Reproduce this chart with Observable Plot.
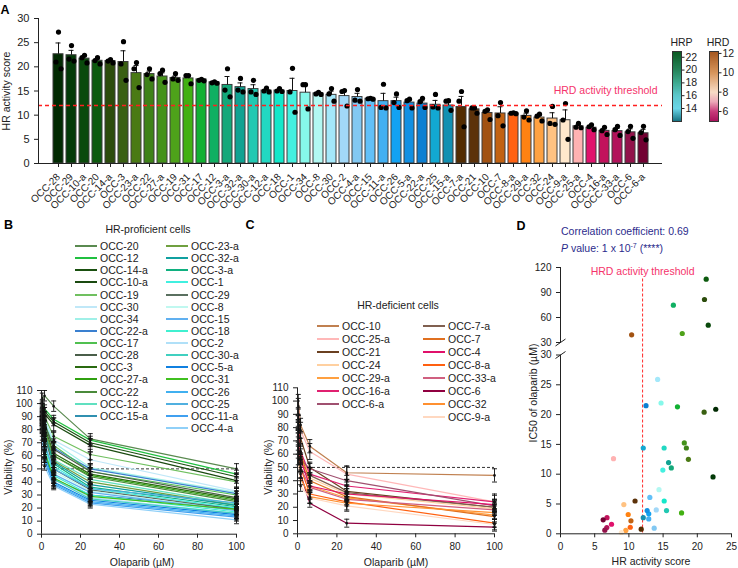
<!DOCTYPE html>
<html><head><meta charset="utf-8">
<script src="https://cdn.jsdelivr.net/npm/d3@7"></script>
<script src="https://cdn.jsdelivr.net/npm/@observablehq/plot@0.6"></script>
<style>
html,body{margin:0;padding:0;background:#fff;}
#root{position:relative;width:738px;height:568px;overflow:hidden;font-family:"Liberation Sans",Arial,Helvetica,sans-serif;color:#222;}
#root svg{position:absolute;overflow:visible;}
.t{position:absolute;white-space:nowrap;line-height:1;}
.sw{position:absolute;height:2px;}
</style></head>
<body><div id="root"></div>
<script>
// ---------- Panel A data ----------
const cellsA = ["OCC-28","OCC-29","OCC-10-a","OCC-20","OCC-14-a","OCC-3","OCC-23-a","OCC-22","OCC-27-a","OCC-19","OCC-31","OCC-17","OCC-12","OCC-3-a","OCC-32-a","OCC-30-a","OCC-12-a","OCC-18","OCC-1","OCC-34","OCC-8","OCC-30","OCC-2","OCC-4-a","OCC-15","OCC-11-a","OCC-26","OCC-5-a","OCC-22-a","OCC-25","OCC-15-a","OCC-7-a","OCC-21","OCC-10","OCC-7","OCC-8-a","OCC-29-a","OCC-32","OCC-24","OCC-9-a","OCC-25-a","OCC-4","OCC-16-a","OCC-33-a","OCC-6","OCC-6-a"];
const hrMean = [22.6,22.4,21.7,21.25,21.2,21.0,18.7,18.5,18.0,17.7,17.6,17.4,16.8,16.25,15.8,15.4,15.1,15.1,15.0,14.65,14.5,14.2,13.95,13.75,13.4,12.9,12.9,12.6,12.4,12.15,12.0,11.7,11.2,10.45,10.35,10.3,9.85,9.5,9.3,8.95,7.7,7.4,6.75,6.7,6.45,6.25];
const hrRep1 = [27.2,24.4,22.4,21.9,21.5,25.2,20.9,19.6,19.3,18.6,18.2,17.4,16.9,19.6,17.6,17.2,15.6,15.5,19.7,16.3,14.7,15.5,15.1,15.3,13.5,16.4,14.4,13.3,13.5,14.3,13.0,14.9,11.5,11.1,12.6,10.5,10.9,10.2,11.8,12.4,8.3,8.0,7.5,7.7,7.7,7.7];
const hrRep2 = [21.0,21.6,21.9,21.3,21.2,20.6,19.6,18.4,18.6,17.5,18.2,17.2,16.7,15.2,15.2,14.8,15.0,15.0,14.8,16.3,14.4,14.4,14.9,13.1,13.4,11.6,12.6,13.0,12.8,11.7,12.9,12.9,11.5,10.8,9.9,10.4,9.6,9.8,8.3,9.0,7.5,7.6,6.8,7.0,6.6,6.4];
const hrRep3 = [19.6,21.2,20.8,20.6,20.8,17.2,15.7,17.5,16.8,17.2,16.5,17.1,16.6,13.8,14.8,14.3,14.8,14.9,10.6,11.3,14.3,12.9,11.9,12.9,13.3,11.5,11.6,11.5,11.6,11.5,11.0,7.6,10.4,9.1,7.8,10.3,9.0,8.8,8.1,5.0,7.4,7.0,6.0,5.8,5.2,4.9];
const barColors = ["#012a02","#033a08","#0a4a0c","#0c5a0e","#2c4c0c","#3a6012","#4a7a14","#3e8218","#44921a","#4ea21a","#42b012","#12b032","#10b062","#14a87a","#10a292","#22c8b2","#22d8c2","#14e8ca","#44f0e0","#86f8ea","#b2f8f2","#a4e8fa","#a2d8f8","#82c8f2","#62c0f8","#42b0f2","#12a2f2","#1290e2","#0c80d2","#12a8d2","#1290b2","#522c02","#5c320a","#a25212","#c26212","#ff6212","#ff8212","#ffa242","#ffc282","#ffe8cc","#ffb2b2","#e0126c","#c2125c","#b2125a","#92124a","#720032"];
const hrTicks = [0,5,10,15,20,25,30];
const threshold = 12;
const thresholdLabel = "HRD activity threshold";

// colour bar legends
const hrpStops = [11.97,14,16,18,20,22.9];
const hrpStopColors = ["#14707f","#6ad6e8","#5cc8cc","#3eaa90","#25845a","#0b5a22"];
const hrpLegendTicks = [14,16,18,20,22];
const hrdStops = [4.97,6,7,8,10,12.2];
const hrdStopColors = ["#a8105a","#c83a7a","#eca8b8","#f8dcc6","#d8965c","#a4561e"];
const hrdLegendTicks = [6,8,10,12];

// ---------- Panels B & C data ----------
const doses = [0.39, 1.56, 6.25, 25, 100];
const viabTicks = [0,10,20,30,40,50,60,70,80,90,100,110];
const doseTicks = [0,20,40,60,80,100];
const ic50Line = 50;
const hrpCells = ["OCC-20","OCC-12","OCC-14-a","OCC-10-a","OCC-19","OCC-30","OCC-34","OCC-22-a","OCC-17","OCC-28","OCC-3","OCC-27-a","OCC-22","OCC-12-a","OCC-15-a","OCC-23-a","OCC-32-a","OCC-3-a","OCC-1","OCC-29","OCC-8","OCC-15","OCC-18","OCC-2","OCC-30-a","OCC-5-a","OCC-31","OCC-26","OCC-25","OCC-11-a","OCC-4-a"];
const hrpLineColors = ["#5a8a50","#20c040","#1a5010","#1a4a10","#70c060","#c0e8f8","#a0f0e8","#3a80d0","#50c050","#4a5e4a","#2a6a10","#30a010","#4a8a3a","#60e0c0","#3090b0","#70a040","#10a0a0","#10b080","#40f0e0","#5a7060","#c0f8f0","#60b0f0","#40f0d0","#b0e0f8","#40d0c0","#1080e0","#40c020","#40b0f0","#50b0e0","#40a0f0","#90d0f8"];
const hrpViability = [
 [104,106,98,73,50],[100,96,88,72,46],[98,94,86,70,44],[97,92,84,68,41],[95,90,75,61,40],
 [94,88,72,57,33],[93,86,70,51,32],[92,84,66,50,31],[92,84,68,48,30],[93,85,65,48,28],
 [90,82,62,46,27],[88,78,60,45,26],[90,80,60,44,25],[88,78,57,42,23],[85,64,42,30,20],
 [90,79,56,40,22],[88,77,55,38,22],[87,75,54,36,21],[86,74,52,35,20],[89,76,50,34,19],
 [85,70,48,33,18],[86,70,46,32,18],[84,68,45,30,17],[82,62,43,28,16],[80,60,42,27,16],
 [82,62,40,26,15],[83,63,43,29,19],[80,58,39,25,14],[84,68,50,35,24],[78,56,38,24,13],[75,52,37,23,11]];
const hrpSD = [4,3,3,5,4,6,3,4,3,5,4,3,4,3,5,3,4,3,3,4,3,3,3,4,3,3,4,3,4,3,3];
const hrdCells = ["OCC-10","OCC-25-a","OCC-21","OCC-24","OCC-29-a","OCC-16-a","OCC-6-a","OCC-7-a","OCC-7","OCC-4","OCC-8-a","OCC-33-a","OCC-6","OCC-32","OCC-9-a"];
const hrdLineColors = ["#c08050","#ffb8b8","#6a4020","#ffd0a0","#ffa040","#e02070","#a05070","#806050","#e07020","#e0106a","#ff6010","#d06080","#900040","#ff9030","#ffd8c0"];
const hrdViability = [
 [100,82,66,46,44],[96,78,62,45,24],[90,72,50,32,20],[85,62,42,30,19],[82,58,36,27,14],
 [84,62,45,36,24],[80,56,49,40,21],[72,48,44,31,20],[82,60,40,28,13],[80,56,36,30,22],
 [76,50,30,24,8],[74,50,35,26,18],[66,45,23,8,5],[62,42,28,23,16],[56,36,27,21,7]];
const hrdSD = [5,6,4,4,3,5,4,6,4,4,3,4,3,5,4];

// ---------- Panel D data (same order as cellsA) ----------
const dScore = [22.7,22.3,21.6,21.3,21.05,21.0,18.7,18.4,18.1,17.8,17.7,17.1,16.5,16.2,15.8,15.5,15.15,15.16,14.96,14.7,14.4,14.2,14.0,13.7,13.06,12.9,12.9,12.67,12.5,12.1,12.1,11.8,10.9,10.4,10.3,10.2,9.9,9.55,9.26,8.9,7.75,7.46,6.8,6.77,6.48,6.24];
const dIC50 = [20.9,9.55,50.8,106,81.6,20.4,12.5,14.4,15.25,40.8,3.5,21.3,74.8,11.06,11.95,3.9,14.4,5.5,10.7,21.95,7.4,25.9,4.0,0.95,6.1,2.5,3.35,3.9,21.5,14.4,2.7,0.78,5.5,39.2,2.18,1.1,3.24,0.56,4.9,0.22,12.6,1.6,2.7,1.06,0.6,2.35];
const yBreak = 30;
const dTopTicks = [30,60,90,120];
const dBottomTicks = [0,5,10,15,20,25,30];
const dXTicks = [0,5,10,15,20,25];

// ---------- helpers ----------
const root = document.getElementById("root");
const FONT = '"Liberation Sans", Arial, Helvetica, sans-serif';
const baseStyle = {fontFamily: FONT, fontSize: "10px", color: "#222", background: "none", overflow: "visible"};
function put(svg, left, top){ svg.style.left = left + "px"; svg.style.top = top + "px"; root.appendChild(svg); }
function label(str, x, y, o = {}) {
  const d = document.createElement("div"); d.className = "t";
  if (o.html) d.innerHTML = str; else d.textContent = str;
  d.style.fontSize = (o.size || 10.5) + "px";
  d.style.color = o.color || "#222";
  if (o.bold) d.style.fontWeight = "bold";
  const tx = o.anchor === "middle" ? "-50%" : o.anchor === "end" ? "-100%" : "0";
  d.style.left = x + "px"; d.style.top = y + "px";
  d.style.transform = o.rotate ? `translate(-50%,-50%) rotate(${o.rotate}deg)` : `translate(${tx},-50%)`;
  root.appendChild(d);
}
const capSym = {draw(ctx, size){ const w = 2.5; ctx.moveTo(-w, 0); ctx.lineTo(w, 0); }};
const slashSym = {draw(ctx, size){ ctx.moveTo(-5, 3.5); ctx.lineTo(5, -3.5); }};

// ---------- Panel A ----------
const aData = cellsA.map((c, i) => {
  const reps = [hrRep1[i], hrRep2[i], hrRep3[i]];
  return {cell: c, mean: hrMean[i], top: hrMean[i] + d3.deviation(reps) / Math.sqrt(reps.length), reps};
});
const aPts = aData.flatMap(d => d.reps.map((v, k) => ({cell: d.cell, v, k})));
const jitter = [0, -2.5, 2.5];
const aPlot = Plot.plot({
  width: 665, height: 205, marginLeft: 38, marginRight: 3, marginTop: 18, marginBottom: 42,
  style: baseStyle,
  x: {domain: cellsA, padding: 0.25, label: null, axis: null},
  y: {domain: [0, 30], label: null, axis: null},
  color: {domain: cellsA, range: barColors},
  marks: [
    Plot.barY(aData, {x: "cell", y: "mean", fill: "cell", stroke: "#3c3c3c", strokeWidth: 1}),
    Plot.ruleX(aData, {x: "cell", y1: "mean", y2: "top", stroke: "#111", strokeWidth: 1}),
    Plot.tickY(aData, {x: "cell", y: "top", stroke: "#111", strokeWidth: 1, insetLeft: 2.5, insetRight: 2.5}),
    ...[0, 1, 2].map(k => Plot.dot(aPts.filter(p => p.k === k), {x: "cell", y: "v", r: 2.6, fill: "#000", dx: jitter[k]})),
    Plot.ruleY([threshold], {stroke: "#ff1f1f", strokeWidth: 1.5, strokeDasharray: "4,3"}),
    Plot.text([thresholdLabel], {text: d => d, frameAnchor: "right", y: threshold, dy: -15, dx: -5, textAnchor: "end", fill: "#f5336b", fontSize: 10.5}),
    Plot.axisX({tickRotate: -45, tickSize: 4, fontSize: 10, label: null}),
    Plot.axisY({ticks: hrTicks, tickSize: 4, fontSize: 11, label: null}),
    Plot.ruleY([0], {stroke: "#222"}),
    Plot.frame({anchor: "left", stroke: "#222"})
  ]
});
put(aPlot, 0, 0);

// colour bars
function colorBar(stops, colors, ticks, left, width) {
  const lo = stops[0], hi = stops[stops.length - 1];
  const p = Plot.plot({
    width, height: 90, marginLeft: 7, marginRight: width - 16, marginTop: 11, marginBottom: 9,
    style: {...baseStyle, fontSize: "10.5px"},
    x: {domain: [0, 1], axis: null},
    y: {domain: [lo, hi], ticks, tickSize: 2.5, tickPadding: 1.5, axis: "right", label: null},
    color: {type: "linear", domain: stops, range: colors},
    marks: [
      Plot.raster({fill: (x, y) => y, x1: 0, x2: 1, y1: lo, y2: hi, width: 1, height: 120, imageRendering: "auto"}),
      Plot.frame({stroke: "#333"})
    ]
  });
  put(p, left, 40);
}
colorBar(hrpStops, hrpStopColors, hrpLegendTicks, 665, 36);
colorBar(hrdStops, hrdStopColors, hrdLegendTicks, 702, 34);
label("HRP", 681.5, 42, {anchor: "middle", size: 10.5});
label("HRD", 718, 42, {anchor: "middle", size: 10.5});

// ---------- Panels B & C ----------
function viabPlot(cells, viab, sd, colors, left, opts) {
  const long = cells.flatMap((c, i) => doses.map((d, j) => ({cell: c, dose: d, v: viab[i][j], sd: sd[i]})));
  const p = Plot.plot({
    width: opts.width, height: 188, marginLeft: opts.ml, marginRight: opts.mr, marginTop: opts.mt, marginBottom: opts.mb,
    style: baseStyle,
    x: {domain: [0, 100], ticks: doseTicks, tickSize: 4, label: null},
    y: {domain: [0, 110], ticks: viabTicks, tickSize: 4, label: null},
    color: {domain: cells, range: colors},
    marks: [
      Plot.ruleY([ic50Line], {stroke: "#333", strokeDasharray: "3,2", strokeWidth: 1}),
      Plot.line(long, {x: "dose", y: "v", z: "cell", stroke: "cell", strokeWidth: 1.2}),
      Plot.ruleX(long, {x: "dose", y1: d => d.v - d.sd, y2: d => d.v + d.sd, stroke: "#111", strokeWidth: 0.9}),
      Plot.dot(long, {x: "dose", y: d => d.v + d.sd, symbol: capSym, r: 2, fill: "none", stroke: "#111", strokeWidth: 0.9}),
      Plot.dot(long, {x: "dose", y: d => d.v - d.sd, symbol: capSym, r: 2, fill: "none", stroke: "#111", strokeWidth: 0.9}),
      Plot.dot(long, {x: "dose", y: "v", r: 1.3, fill: "#111"}),
      Plot.ruleX([0], {stroke: "#222"}),
      Plot.ruleY([0], {stroke: "#222"})
    ]
  });
  put(p, left, 380);
}
viabPlot(hrpCells, hrpViability, hrpSD, hrpLineColors, 0, {width: 245, ml: 41, mr: 9, mt: 10, mb: 34.3});
viabPlot(hrdCells, hrdViability, hrdSD, hrdLineColors, 250, {width: 250, ml: 47, mr: 6, mt: 7.3, mb: 34.7});

function lineLegend(cells, colors, leftCount, xL, xR, y0, step) {
  cells.forEach((c, i) => {
    const col = i < leftCount ? 0 : 1, row = col ? i - leftCount : i;
    const x = col ? xR : xL, y = y0 + row * step;
    const s = document.createElement("div"); s.className = "sw";
    s.style.left = x + "px"; s.style.top = (y - 1) + "px"; s.style.width = "22px"; s.style.background = colors[i];
    root.appendChild(s);
    label(c, x + 25, y, {size: 10.5});
  });
}
lineLegend(hrpCells, hrpLineColors, 15, 75, 166, 246, 12.13);
lineLegend(hrdCells, hrdLineColors, 7, 317, 423, 325.7, 13.06);

// ---------- Panel D ----------
const dData = cellsA.map((c, i) => ({cell: c, score: dScore[i], ic50: dIC50[i]}));
const dTop = Plot.plot({
  width: 238, height: 90, marginLeft: 60, marginRight: 7, marginTop: 12, marginBottom: 3,
  style: baseStyle,
  x: {domain: [0, 25], axis: null},
  y: {domain: [yBreak, 120], ticks: dTopTicks, tickSize: 4, label: null},
  color: {domain: cellsA, range: barColors},
  marks: [
    Plot.ruleX([threshold], {stroke: "#ff2a2a", strokeDasharray: "3,2", strokeWidth: 1, insetTop: 11.5, insetBottom: -13}),
    Plot.dot(dData.filter(d => d.ic50 > yBreak), {x: "score", y: "ic50", fill: "cell", r: 2.6}),
    Plot.ruleX([0], {stroke: "#222"}),
    Plot.dot([yBreak], {x: 0, y: d => d, symbol: slashSym, r: 3, fill: "none", stroke: "#222", strokeWidth: 1}),
    Plot.text([thresholdLabel], {text: d => d, x: threshold, frameAnchor: "top", fill: "#f5336b", fontSize: 10.5})
  ]
});
put(dTop, 500, 255);
const dBottom = Plot.plot({
  width: 238, height: 223, marginLeft: 60, marginRight: 7, marginTop: 9.5, marginBottom: 34.7,
  style: baseStyle,
  x: {domain: [0, 25], ticks: dXTicks, tickSize: 4, label: null},
  y: {domain: [0, yBreak], ticks: dBottomTicks, tickSize: 4, label: null},
  color: {domain: cellsA, range: barColors},
  marks: [
    Plot.ruleX([threshold], {stroke: "#ff2a2a", strokeDasharray: "3,2", strokeWidth: 1}),
    Plot.dot(dData.filter(d => d.ic50 <= yBreak), {x: "score", y: "ic50", fill: "cell", r: 2.6}),
    Plot.ruleX([0], {stroke: "#222"}),
    Plot.ruleY([0], {stroke: "#222"}),
    Plot.dot([yBreak], {x: 0, y: d => d, symbol: slashSym, r: 3, fill: "none", stroke: "#222", strokeWidth: 1})
  ]
});
put(dBottom, 500, 345);

// ---------- text ----------
label("A", 5, 9.5, {bold: true, size: 12.5, anchor: "middle", color: "#000"});
label("B", 8.5, 225, {bold: true, size: 12.5, anchor: "middle", color: "#000"});
label("C", 250, 225, {bold: true, size: 12.5, anchor: "middle", color: "#000"});
label("D", 521, 226, {bold: true, size: 12.5, anchor: "middle", color: "#000"});
label("HR activity score", 6, 91, {rotate: -90, size: 10.5});
label("HR-proficient cells", 148, 229, {anchor: "middle", size: 10.5});
label("HR-deficient cells", 398, 305, {anchor: "middle", size: 10.5});
label("Viability (%)", 8, 467, {rotate: -90, size: 10.5});
label("Olaparib (µM)", 142, 562, {anchor: "middle", size: 10.5});
label("Viability (%)", 268, 467, {rotate: -90, size: 10.5});
label("Olaparib (µM)", 396, 562, {anchor: "middle", size: 10.5});
label("Correlation coefficient: 0.69", 561, 231, {size: 10.5, color: "#2b2b8c"});
label('<i>P</i> value: 1 x 10<sup style="font-size:7px;vertical-align:4px;line-height:0">-7</sup> (****)', 561, 248, {html: true, size: 10.5, color: "#2b2b8c"});
label("IC50 of olaparib (µM)", 533, 393, {rotate: -90, size: 10.5});
label("HR activity score", 651, 561, {anchor: "middle", size: 10.5});
</script>
</body></html>
